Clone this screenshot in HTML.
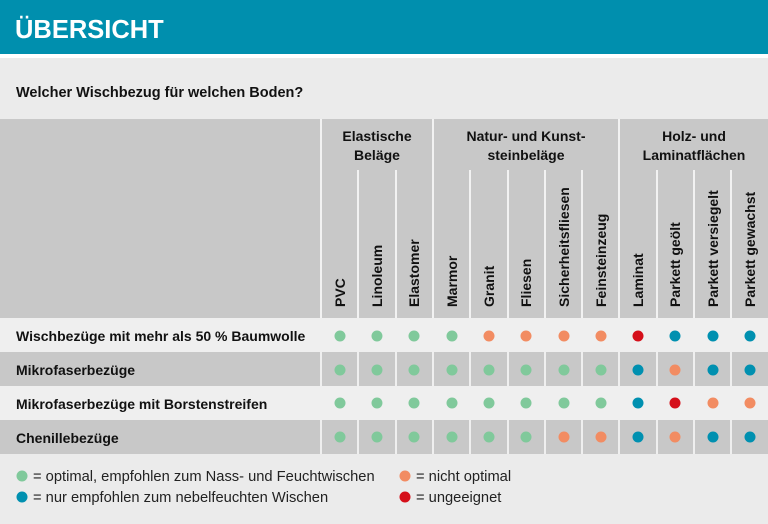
<!DOCTYPE html>
<html><head><meta charset="utf-8"><style>
html,body{margin:0;padding:0;background:#ebebeb;}
svg{display:block;font-family:"Liberation Sans",sans-serif;}
</style></head><body>
<svg width="768" height="524" viewBox="0 0 768 524" xmlns="http://www.w3.org/2000/svg">
<rect x="0" y="0" width="768" height="524" fill="#ebebeb"/>
<rect x="0" y="0" width="768" height="54" fill="#008fae"/>
<rect x="0" y="54" width="768" height="4" fill="#ffffff"/>
<text x="15" y="38" font-size="25.5" font-weight="bold" fill="#fff">ÜBERSICHT</text>
<text x="16" y="97" font-size="14.5" font-weight="bold" fill="#111">Welcher Wischbezug für welchen Boden?</text>

<rect x="0" y="119" width="768" height="199" fill="#c8c8c8"/>
<g fill="#f2f2f2">
<rect x="320" y="119" width="2" height="199"/>
<rect x="432" y="119" width="2" height="199"/>
<rect x="618" y="119" width="2" height="199"/>
<rect x="357" y="170" width="2" height="148"/>
<rect x="395" y="170" width="2" height="148"/>
<rect x="469" y="170" width="2" height="148"/>
<rect x="507" y="170" width="2" height="148"/>
<rect x="544" y="170" width="2" height="148"/>
<rect x="581" y="170" width="2" height="148"/>
<rect x="656" y="170" width="2" height="148"/>
<rect x="693" y="170" width="2" height="148"/>
<rect x="730" y="170" width="2" height="148"/>
</g>
<g font-size="14" font-weight="bold" fill="#111" text-anchor="middle">
<text x="377" y="141">Elastische</text><text x="377" y="160">Beläge</text>
<text x="526" y="141">Natur- und Kunst-</text><text x="526" y="160">steinbeläge</text>
<text x="694" y="141">Holz- und</text><text x="694" y="160">Laminatflächen</text>
</g>
<g font-size="14" font-weight="bold" fill="#111">
<text transform="translate(345,307) rotate(-90)">PVC</text>
<text transform="translate(382,307) rotate(-90)">Linoleum</text>
<text transform="translate(419,307) rotate(-90)">Elastomer</text>
<text transform="translate(457,307) rotate(-90)">Marmor</text>
<text transform="translate(494,307) rotate(-90)">Granit</text>
<text transform="translate(531,307) rotate(-90)">Fliesen</text>
<text transform="translate(569,307) rotate(-90)">Sicherheitsfliesen</text>
<text transform="translate(606,307) rotate(-90)">Feinsteinzeug</text>
<text transform="translate(643,307) rotate(-90)">Laminat</text>
<text transform="translate(680,307) rotate(-90)">Parkett geölt</text>
<text transform="translate(718,307) rotate(-90)">Parkett versiegelt</text>
<text transform="translate(755,307) rotate(-90)">Parkett gewachst</text>
</g>

<rect x="0" y="318" width="768" height="34" fill="#efefef"/>
<rect x="0" y="352" width="768" height="34" fill="#c8c8c8"/>
<rect x="0" y="386" width="768" height="34" fill="#efefef"/>
<rect x="0" y="420" width="768" height="34" fill="#c8c8c8"/>
<g fill="#efefef">
<rect x="320" y="352" width="2" height="34"/><rect x="357" y="352" width="2" height="34"/><rect x="395" y="352" width="2" height="34"/><rect x="432" y="352" width="2" height="34"/><rect x="469" y="352" width="2" height="34"/><rect x="507" y="352" width="2" height="34"/><rect x="544" y="352" width="2" height="34"/><rect x="581" y="352" width="2" height="34"/><rect x="618" y="352" width="2" height="34"/><rect x="656" y="352" width="2" height="34"/><rect x="693" y="352" width="2" height="34"/><rect x="730" y="352" width="2" height="34"/>
<rect x="320" y="420" width="2" height="34"/><rect x="357" y="420" width="2" height="34"/><rect x="395" y="420" width="2" height="34"/><rect x="432" y="420" width="2" height="34"/><rect x="469" y="420" width="2" height="34"/><rect x="507" y="420" width="2" height="34"/><rect x="544" y="420" width="2" height="34"/><rect x="581" y="420" width="2" height="34"/><rect x="618" y="420" width="2" height="34"/><rect x="656" y="420" width="2" height="34"/><rect x="693" y="420" width="2" height="34"/><rect x="730" y="420" width="2" height="34"/>
</g>
<g font-size="14" font-weight="bold" fill="#111">
<text x="16" y="341">Wischbezüge mit mehr als 50 % Baumwolle</text>
<text x="16" y="375">Mikrofaserbezüge</text>
<text x="16" y="409">Mikrofaserbezüge mit Borstenstreifen</text>
<text x="16" y="443">Chenillebezüge</text>
</g>

<circle cx="22" cy="476" r="5.5" fill="#80c99b"/>
<circle cx="22" cy="497" r="5.5" fill="#0090b0"/>
<circle cx="405" cy="476" r="5.5" fill="#f28c62"/>
<circle cx="405" cy="497" r="5.5" fill="#d50f1a"/>
<g font-size="14.7" fill="#222">
<text x="33" y="481">= optimal, empfohlen zum Nass- und Feuchtwischen</text>
<text x="33" y="502">= nur empfohlen zum nebelfeuchten Wischen</text>
<text x="416" y="481">= nicht optimal</text>
<text x="416" y="502">= ungeeignet</text>
</g>
<g>
<circle cx="340" cy="336" r="5.5" fill="#80c99b"/><circle cx="377" cy="336" r="5.5" fill="#80c99b"/><circle cx="414" cy="336" r="5.5" fill="#80c99b"/><circle cx="452" cy="336" r="5.5" fill="#80c99b"/><circle cx="489" cy="336" r="5.5" fill="#f28c62"/><circle cx="526" cy="336" r="5.5" fill="#f28c62"/><circle cx="564" cy="336" r="5.5" fill="#f28c62"/><circle cx="601" cy="336" r="5.5" fill="#f28c62"/><circle cx="638" cy="336" r="5.5" fill="#d50f1a"/><circle cx="675" cy="336" r="5.5" fill="#0090b0"/><circle cx="713" cy="336" r="5.5" fill="#0090b0"/><circle cx="750" cy="336" r="5.5" fill="#0090b0"/>
<circle cx="340" cy="370" r="5.5" fill="#80c99b"/><circle cx="377" cy="370" r="5.5" fill="#80c99b"/><circle cx="414" cy="370" r="5.5" fill="#80c99b"/><circle cx="452" cy="370" r="5.5" fill="#80c99b"/><circle cx="489" cy="370" r="5.5" fill="#80c99b"/><circle cx="526" cy="370" r="5.5" fill="#80c99b"/><circle cx="564" cy="370" r="5.5" fill="#80c99b"/><circle cx="601" cy="370" r="5.5" fill="#80c99b"/><circle cx="638" cy="370" r="5.5" fill="#0090b0"/><circle cx="675" cy="370" r="5.5" fill="#f28c62"/><circle cx="713" cy="370" r="5.5" fill="#0090b0"/><circle cx="750" cy="370" r="5.5" fill="#0090b0"/>
<circle cx="340" cy="403" r="5.5" fill="#80c99b"/><circle cx="377" cy="403" r="5.5" fill="#80c99b"/><circle cx="414" cy="403" r="5.5" fill="#80c99b"/><circle cx="452" cy="403" r="5.5" fill="#80c99b"/><circle cx="489" cy="403" r="5.5" fill="#80c99b"/><circle cx="526" cy="403" r="5.5" fill="#80c99b"/><circle cx="564" cy="403" r="5.5" fill="#80c99b"/><circle cx="601" cy="403" r="5.5" fill="#80c99b"/><circle cx="638" cy="403" r="5.5" fill="#0090b0"/><circle cx="675" cy="403" r="5.5" fill="#d50f1a"/><circle cx="713" cy="403" r="5.5" fill="#f28c62"/><circle cx="750" cy="403" r="5.5" fill="#f28c62"/>
<circle cx="340" cy="437" r="5.5" fill="#80c99b"/><circle cx="377" cy="437" r="5.5" fill="#80c99b"/><circle cx="414" cy="437" r="5.5" fill="#80c99b"/><circle cx="452" cy="437" r="5.5" fill="#80c99b"/><circle cx="489" cy="437" r="5.5" fill="#80c99b"/><circle cx="526" cy="437" r="5.5" fill="#80c99b"/><circle cx="564" cy="437" r="5.5" fill="#f28c62"/><circle cx="601" cy="437" r="5.5" fill="#f28c62"/><circle cx="638" cy="437" r="5.5" fill="#0090b0"/><circle cx="675" cy="437" r="5.5" fill="#f28c62"/><circle cx="713" cy="437" r="5.5" fill="#0090b0"/><circle cx="750" cy="437" r="5.5" fill="#0090b0"/>
</g>
</svg>
</body></html>
